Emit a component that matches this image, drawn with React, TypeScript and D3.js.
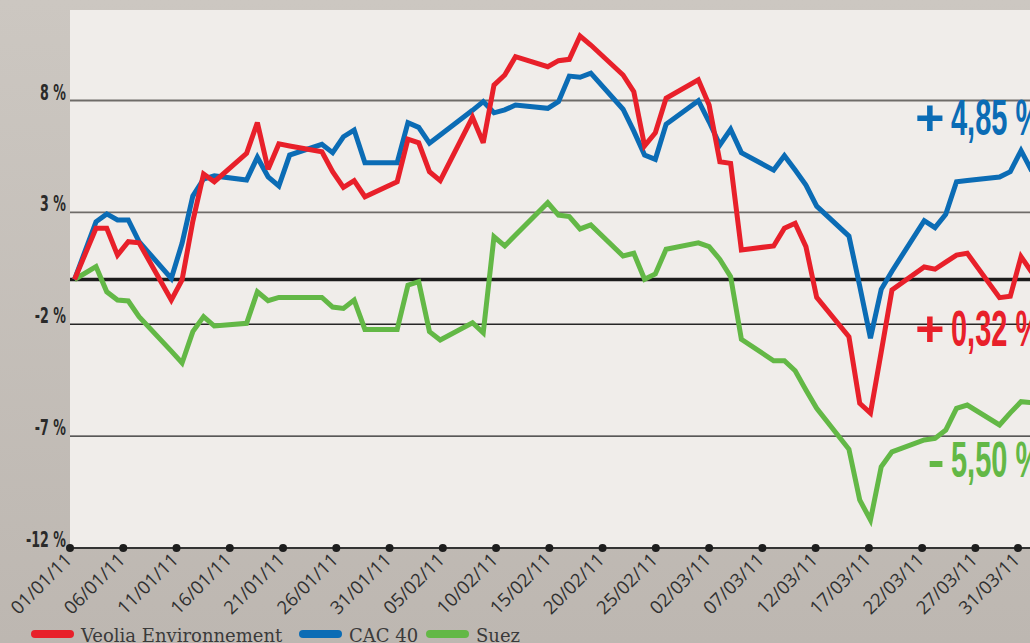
import React from "react";
import * as d3 from "d3";

const W = 1030;
const H = 643;

const dates = [
  "2011-01-01","2011-01-03","2011-01-04","2011-01-05","2011-01-06","2011-01-07","2011-01-10","2011-01-11","2011-01-12","2011-01-13","2011-01-14","2011-01-17","2011-01-18","2011-01-19","2011-01-20","2011-01-21","2011-01-24","2011-01-25","2011-01-26","2011-01-27","2011-01-28","2011-01-31",
  "2011-02-01","2011-02-02","2011-02-03","2011-02-04","2011-02-07","2011-02-08","2011-02-09","2011-02-10","2011-02-11","2011-02-14","2011-02-15","2011-02-16","2011-02-17","2011-02-18","2011-02-21","2011-02-22","2011-02-23","2011-02-24","2011-02-25","2011-02-28",
  "2011-03-01","2011-03-02","2011-03-03","2011-03-04","2011-03-07","2011-03-08","2011-03-09","2011-03-10","2011-03-11","2011-03-14","2011-03-15","2011-03-16","2011-03-17","2011-03-18","2011-03-21","2011-03-22","2011-03-23","2011-03-24","2011-03-25","2011-03-28","2011-03-29","2011-03-30","2011-03-31",
];

const veolia = [
  0, 2.29, 2.29, 1.09, 1.69, 1.64, -0.92, -0.02, 2.6, 4.72, 4.37, 5.64, 7.01, 4.93, 6.06, 5.97, 5.71, 4.82, 4.12, 4.42, 3.70, 4.37,
  6.27, 6.11, 4.82, 4.42, 7.25, 6.11, 8.69, 9.14, 9.96, 9.51, 9.78, 9.84, 10.88, 10.48, 9.14, 8.39, 5.97, 6.56, 8.10, 8.92,
  7.80, 5.26, 5.19, 1.32, 1.50, 2.29, 2.51, 1.47, -0.80, -2.56, -5.53, -5.97, -3.24, -0.47, 0.56, 0.46, 0.78, 1.09, 1.17, -0.81, -0.75, 1.02, 0.32,
];

const cac40 = [
  0, 2.58, 2.93, 2.66, 2.66, 1.69, 0.05, 1.62, 3.73, 4.49, 4.63, 4.45, 5.46, 4.59, 4.18, 5.56, 6.04, 5.67, 6.38, 6.68, 5.22, 5.22,
  7.01, 6.80, 6.09, 6.46, 7.56, 7.95, 7.45, 7.58, 7.80, 7.65, 7.95, 9.09, 9.04, 9.22, 7.61, 6.63, 5.56, 5.37, 6.94, 7.99,
  7.05, 6.01, 6.71, 5.67, 4.89, 5.53, 4.89, 4.22, 3.28, 1.94, -0.29, -2.62, -0.44, 0.37, 2.63, 2.32, 2.91, 4.37, 4.42, 4.58, 4.82, 5.76, 4.85,
];

const suez = [
  0, 0.58, -0.55, -0.92, -0.96, -1.66, -3.2, -3.73, -2.33, -1.66, -2.08, -1.96, -0.55, -0.95, -0.80, -0.80, -0.80, -1.23, -1.29, -0.92, -2.23, -2.23,
  -0.25, -0.10, -2.33, -2.70, -1.93, -2.38, 1.91, 1.50, 1.99, 3.43, 2.88, 2.81, 2.26, 2.44, 1.05, 1.17, 0.01, 0.25, 1.35, 1.64,
  1.47, 0.90, 0.13, -2.67, -3.63, -3.63, -4.08, -4.94, -5.76, -7.59, -9.85, -10.75, -8.37, -7.70, -7.17, -7.10, -6.73, -5.76, -5.61, -6.50, -5.96, -5.46, -5.50,
];

const tickLabels = [
  "01/01/11","06/01/11","11/01/11","16/01/11","21/01/11","26/01/11","31/01/11","05/02/11","10/02/11","15/02/11",
  "20/02/11","25/02/11","02/03/11","07/03/11","12/03/11","17/03/11","22/03/11","27/03/11","31/03/11",
];

const yTicks = [8, 3, -2, -7, -12];
const yTickLabels = ["8 %", "3 %", "-2 %", "-7 %", "-12 %"];

const seriesNames = ["Veolia Environnement", "CAC 40", "Suez"];
const seriesColors = ["#e8202a", "#0b6cb5", "#63b846"];
const finalSigns = ["+", "+", "-"];
const finalValues = ["0,32 %", "4,85 %", "5,50 %"];

const parseDate = d3.timeParse("%Y-%m-%d");
const parseTick = d3.timeParse("%d/%m/%y");

export default function App() {
  const start = parseDate("2011-01-01") as Date;
  const end = parseDate("2011-03-31") as Date;
  const xData = d3.scaleTime().domain([start, end]).range([74.5, 1031.8]);
  const xTick = d3.scaleTime().domain([start, end]).range([70, 1018]);
  const y = d3.scaleLinear().domain([-12, 12]).range([548, 11]);

  const parsed = dates.map((d) => parseDate(d) as Date);
  const line = d3
    .line<number>()
    .x((_, i) => xData(parsed[i]))
    .y((d) => y(d));

  const series = [veolia, cac40, suez];
  const drawOrder = [2, 1, 0];

  const labelPos = [
    { sx: 944.5, vy: y(-2) + 22, nx: 951 },
    { sx: 944.5, vy: y(8) + 34, nx: 951 },
    { sx: 944.5, vy: y(-7) + 41, nx: 951 },
  ];

  const legendX = [31, 299, 426];

  return (
    <svg
      width={W}
      height={H}
      style={{ position: "absolute", left: 0, top: 0, display: "block" }}
    >
      <defs>
        <linearGradient id="bg" x1="0" y1="0" x2="0" y2="1">
          <stop offset="0" stopColor="#ccc7c1" />
          <stop offset="1" stopColor="#bdb7b1" />
        </linearGradient>
      </defs>
      <rect x={0} y={0} width={W} height={H} fill="url(#bg)" />
      <rect x={70} y={10} width={W - 70} height={548 - 10} fill="#f0edea" />

      {yTicks.slice(0, 4).map((t, i) => (
        <line
          key={"g" + t}
          x1={70}
          x2={W}
          y1={y(t)}
          y2={y(t)}
          stroke={i < 2 ? "#6f6c69" : "#262626"}
          strokeWidth={i < 2 ? 1.8 : 1.4}
        />
      ))}
      <line x1={70} x2={W} y1={y(0)} y2={y(0)} stroke="#1c1c1c" strokeWidth={3.5} />

      {yTicks.map((t, i) => (
        <text
          key={"yl" + t}
          transform={`translate(66,${y(t) - 1}) scale(0.64,1)`}
          textAnchor="end"
          fontFamily="'Liberation Sans Narrow', 'DejaVu Sans Condensed', sans-serif"
          fontWeight="bold"
          fontSize={22}
          fill="#2a2a2a"
        >
          {yTickLabels[i]}
        </text>
      ))}

      {drawOrder.map((k) => (
        <path
          key={"s" + k}
          d={line(series[k]) || ""}
          fill="none"
          stroke={seriesColors[k]}
          strokeWidth={5}
          strokeLinejoin="miter"
          strokeMiterlimit={3}
        />
      ))}

      <line x1={70} x2={W} y1={548} y2={548} stroke="#333" strokeWidth={2} />
      {tickLabels.map((lab) => {
        const tx = xTick(parseTick(lab) as Date);
        return (
          <g key={lab}>
            <circle cx={tx} cy={548} r={4} fill="#1e1e1e" />
            <text
              transform={`translate(${tx + 3},${561}) rotate(-45)`}
              textAnchor="end"
              fontFamily="'Open Sans', sans-serif"
              fontSize={18.5}
              fill="#303030"
            >
              {lab}
            </text>
          </g>
        );
      })}

      {[1, 0, 2].map((k) => (
        <g key={"fl" + k} fill={seriesColors[k]}>
          <text
            x={labelPos[k].sx}
            y={labelPos[k].vy}
            textAnchor="end"
            fontFamily="'Liberation Sans', sans-serif"
            fontWeight="bold"
            fontSize={50}
          >
            {finalSigns[k]}
          </text>
          <text
            transform={`translate(${labelPos[k].nx},${labelPos[k].vy}) scale(0.58,1)`}
            fontFamily="'Liberation Sans Narrow', sans-serif"
            fontWeight="bold"
            fontSize={50}
          >
            {finalValues[k]}
          </text>
        </g>
      ))}

      {seriesNames.map((n, i) => (
        <g key={"lg" + n}>
          <rect x={legendX[i]} y={630} width={43} height={8} rx={4} fill={seriesColors[i]} />
          <text
            x={legendX[i] + 50}
            y={642}
            fontFamily="'DejaVu Serif', serif"
            fontSize={18}
            fill="#3a3a3a"
          >
            {n}
          </text>
        </g>
      ))}
    </svg>
  );
}
